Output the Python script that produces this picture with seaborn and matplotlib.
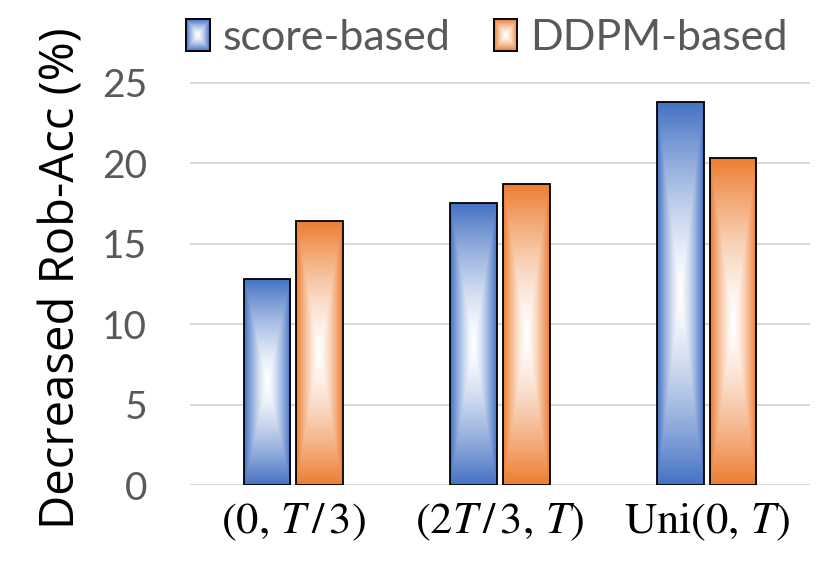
import numpy as np
import pandas as pd
import matplotlib
matplotlib.use("Agg")
import matplotlib.pyplot as plt
import seaborn as sns
from matplotlib.patches import Patch
from matplotlib.colors import to_rgb

categories = [r"$(0,\,T\,/\,3)$", r"$(2T\,/\,3,\,T)$", r"$\mathrm{Uni}(0,\,T)$"]
score_vals = [12.8, 17.5, 23.8]
ddpm_vals = [16.4, 18.7, 20.3]
series_names = ["score-based", "DDPM-based"]
yticks = [0, 5, 10, 15, 20, 25]

blue = "#4472C4"
orange = "#ED7D31"

df = pd.DataFrame({
    "interval": categories * 2,
    "value": score_vals + ddpm_vals,
    "method": [series_names[0]] * 3 + [series_names[1]] * 3,
})

sns.set_style("white")
plt.rcParams["font.family"] = ["Lato", "DejaVu Sans"]
plt.rcParams["mathtext.fontset"] = "stix"

fig = plt.figure(figsize=(8.3, 5.71), dpi=100)
ax = fig.add_axes([190 / 830, 1 - 485 / 571, 620 / 830, 403 / 571])

sns.barplot(data=df, x="interval", y="value", hue="method",
            palette=[blue, orange], saturation=1, width=0.51, gap=0.11,
            edgecolor="black", linewidth=1.3, ax=ax, legend=False)


def grad_img(color, rows=200, cols=60):
    u = np.linspace(-1, 1, cols)
    v = np.linspace(-1, 1, rows)
    U, V = np.meshgrid(u, v)
    t = np.maximum(np.abs(U), np.abs(V))
    t = t ** 1.4
    c = np.array(to_rgb(color))
    img = (1 - t)[..., None] * np.ones(3) + t[..., None] * c
    return img


for p in ax.patches:
    fc = p.get_facecolor()[:3]
    x0, y0 = p.get_x(), p.get_y()
    w, h = p.get_width(), p.get_height()
    if h <= 0:
        continue
    ax.imshow(grad_img(fc), extent=[x0, x0 + w, y0, y0 + h], aspect="auto",
              origin="lower", zorder=p.get_zorder() - 0.1, interpolation="bilinear")
    p.set_facecolor("none")

ax.set_xlim(-0.5, 2.5)
ax.set_ylim(0, 25.05)
ax.set_yticks(yticks)
ax.yaxis.grid(True, color="#D9D9D9", linewidth=1.5)
ax.set_axisbelow(True)
for s in ax.spines.values():
    s.set_visible(False)
ax.tick_params(axis="y", length=0, pad=31, labelsize=28, labelcolor="#595959")
ax.tick_params(axis="x", length=0, pad=12, labelsize=32, labelcolor="black")
ax.set_xlabel("")
ax.set_ylabel("Decreased Rob-Acc (%)", fontsize=34, color="black",
              family=["Open Sans", "DejaVu Sans"])
ax.yaxis.set_label_coords((86 - 190) / 620, (485 - 278) / 403)

handles = [Patch(facecolor=blue, edgecolor="black", linewidth=1.3),
           Patch(facecolor=orange, edgecolor="black", linewidth=1.3)]
leg = fig.legend(handles, series_names, loc="center", ncol=2,
                 bbox_to_anchor=(487 / 830, 1 - 38 / 571), frameon=False,
                 fontsize=31, handlelength=0.55, handleheight=0.75,
                 handletextpad=0.3, columnspacing=1.0, labelcolor="#595959")

fig.canvas.draw()
for hp, col in zip(leg.get_patches(), [blue, orange]):
    bb = hp.get_window_extent().transformed(fig.transFigure.inverted())
    lax = fig.add_axes([bb.x0, bb.y0, bb.width, bb.height], zorder=10)
    lax.imshow(grad_img(col, 60, 40), aspect="auto", interpolation="bilinear")
    lax.set_xticks([])
    lax.set_yticks([])
    for s in lax.spines.values():
        s.set_edgecolor("black")
        s.set_linewidth(1.3)

fig.savefig("out.png", dpi=100)
